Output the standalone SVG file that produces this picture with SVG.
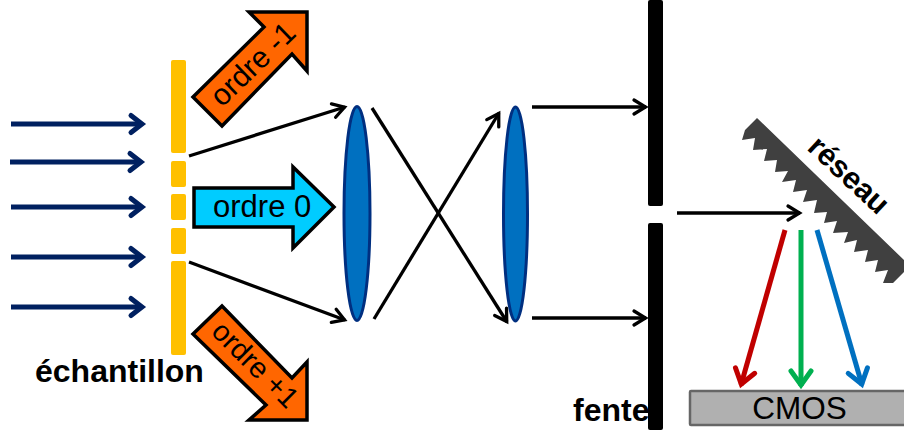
<svg xmlns="http://www.w3.org/2000/svg" width="904" height="430" viewBox="0 0 904 430">
<style>
text{font-family:"Liberation Sans",Arial,sans-serif;fill:#000}
.b{font-weight:bold}
.slit{fill:#ffc000}
.lens{fill:#0070c0;stroke:#002f80;stroke-width:3}
.bar{fill:#000}
.ord{stroke:#000;stroke-width:3.500;stroke-linejoin:miter}
.c{fill:none;stroke-linecap:butt}
.k{stroke:#000;stroke-width:3.300;marker-end:url(#mk)}
.n{stroke:#002060;stroke-width:5;marker-end:url(#mn)}
</style>
<defs>
<marker id="mk" markerUnits="userSpaceOnUse" markerWidth="20" markerHeight="24" refX="16" refY="12" orient="auto"><path d="M4 5L15.500 12L4 19" fill="none" stroke="#000" stroke-width="3.300" stroke-linecap="round"/></marker>
<marker id="mn" markerUnits="userSpaceOnUse" markerWidth="24" markerHeight="28" refX="15" refY="14" orient="auto"><path d="M4 5.500L15 14L4 22.500" fill="none" stroke="#002060" stroke-width="5" stroke-linecap="round"/></marker>
<marker id="mr" markerUnits="userSpaceOnUse" markerWidth="24" markerHeight="28" refX="20" refY="14" orient="auto"><path d="M5 4L19 14L5 24" fill="none" stroke="#c00000" stroke-width="5" stroke-linecap="round"/></marker>
<marker id="mg" markerUnits="userSpaceOnUse" markerWidth="24" markerHeight="28" refX="20" refY="14" orient="auto"><path d="M5 4L19 14L5 24" fill="none" stroke="#00b050" stroke-width="5" stroke-linecap="round"/></marker>
<marker id="mb" markerUnits="userSpaceOnUse" markerWidth="24" markerHeight="28" refX="20" refY="14" orient="auto"><path d="M5 4L19 14L5 24" fill="none" stroke="#0070c0" stroke-width="5" stroke-linecap="round"/></marker>
</defs>
<g id="echantillon">
<rect class="slit" x="171" y="60" width="15" height="93" rx="2"/>
<rect class="slit" x="171" y="161" width="15" height="26" rx="2"/>
<rect class="slit" x="171" y="194" width="15" height="26" rx="2"/>
<rect class="slit" x="171" y="228" width="15" height="26" rx="2"/>
<rect class="slit" x="171" y="261" width="15" height="94" rx="2"/>
<text class="b" x="35" y="382" font-size="32">échantillon</text>
</g>
<g id="ordre-moins-1">
<polygon class="ord" fill="#ff6600" points="193,97 264,27 249,12 307,12 307,71 292,54 222,126"/>
<text font-size="30" transform="translate(222,108) rotate(-44)">ordre -1</text>
</g>
<g id="ordre-0">
<polygon class="ord" fill="#00ccff" points="194,188 293,188 293,167 334,207 293,248 293,227 194,227"/>
<text font-size="31" x="213" y="217">ordre 0</text>
</g>
<g id="ordre-plus-1">
<polygon class="ord" fill="#ff6600" points="193,334 222,306 292,378 307,362 307,420 249,420 266,405"/>
<text font-size="29" transform="translate(210,333) rotate(45)">ordre +1</text>
</g>
<g id="lentille-1"><ellipse class="lens" cx="357" cy="213.500" rx="13" ry="107"/></g>
<g id="lentille-2"><ellipse class="lens" cx="515.500" cy="214" rx="12" ry="107"/></g>
<g id="fente">
<rect class="bar" x="648" y="0" width="15" height="206" rx="2"/>
<rect class="bar" x="648" y="223" width="15" height="207" rx="2"/>
<text class="b" x="573" y="421" font-size="32">fente</text>
</g>
<g id="reseau">
<polygon fill="#404040" points="757,118 904,260 904,272 893,283 883,283 888,270 875,272 878,260 865,262 868,250 854,252 857,240 844,243 848,232 833,233 837,221 824,223 827,212 814,213 817,200 803,202 807,190 793,192 796,180 782,182 788,171 775,172 777,160 764,161 767,149 753,150 755,138 742,140 745,130"/>
<text class="b" font-size="30.500" transform="translate(806,149) rotate(43)">réseau</text>
</g>
<g id="cmos">
<rect x="690" y="391" width="216" height="34" rx="1" fill="#b0b0b0" stroke="#666" stroke-width="2.500"/>
<text x="799.500" y="419" font-size="31.500" text-anchor="middle">CMOS</text>
</g>
<g id="connecteurs" class="c">
<path class="c n" d="M11 124H142"/>
<path class="c n" d="M10 162H141"/>
<path class="c n" d="M11 207H142"/>
<path class="c n" d="M11 257H142"/>
<path class="c n" d="M11 307H142"/>
<path class="c k" d="M189 156L345 107"/>
<path class="c k" d="M189 262L345 320"/>
<path class="c k" d="M372 108L507 322"/>
<path class="c k" d="M374 319L499 113"/>
<path class="c k" d="M532 107H646"/>
<path class="c k" d="M532 318H646"/>
<path class="c k" d="M677 213H800"/>
<path class="c" d="M785 230L741 385" stroke="#c00000" stroke-width="5" marker-end="url(#mr)"/>
<path class="c" d="M801 230V386" stroke="#00b050" stroke-width="5" marker-end="url(#mg)"/>
<path class="c" d="M817 230L862 385" stroke="#0070c0" stroke-width="5" marker-end="url(#mb)"/>
</g>
</svg>
